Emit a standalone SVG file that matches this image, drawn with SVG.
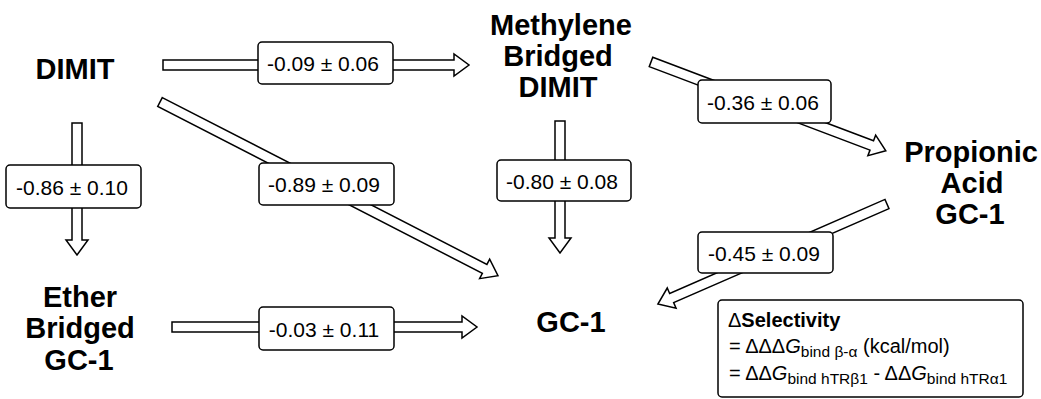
<svg xmlns="http://www.w3.org/2000/svg" width="1041" height="399" viewBox="0 0 1041 399">
<style>
.node{font-family:"Liberation Sans",Arial,sans-serif;font-weight:bold;font-size:29px;fill:#000;text-anchor:middle}
.arr{fill:#fff;stroke:#000;stroke-width:1.5;stroke-linejoin:miter}
.box{fill:#fff;stroke:#000;stroke-width:1.5}
.lbl{font-family:"Liberation Sans",Arial,sans-serif;font-size:21px;fill:#000;text-anchor:middle}
.leg{font-family:"Liberation Sans",Arial,sans-serif;font-size:20px;fill:#000}
.sub{font-size:15.5px}
</style>
<rect width="1041" height="399" fill="#fff"/>
<g id="connectors">
  <g transform="translate(163,65)"><polygon class="arr" points="0,-5 291,-5 291,-11 306,0 291,11 291,5 0,5"/></g>
  <g transform="translate(77,123) rotate(90)"><polygon class="arr" points="0,-5 117,-5 117,-11 132,0 117,11 117,5 0,5"/></g>
  <g transform="translate(160,102) rotate(27.2)"><polygon class="arr" points="0,-5 365,-5 365,-11 380,0 365,11 365,5 0,5"/></g>
  <g transform="translate(560,121) rotate(90)"><polygon class="arr" points="0,-5 117,-5 117,-11 132,0 117,11 117,5 0,5"/></g>
  <g transform="translate(651,62) rotate(20.7)"><polygon class="arr" points="0,-5 236,-5 236,-11 251,0 236,11 236,5 0,5"/></g>
  <g transform="translate(887,204) rotate(156.4)"><polygon class="arr" points="0,-5 235,-5 235,-11 250,0 235,11 235,5 0,5"/></g>
  <g transform="translate(172,327)"><polygon class="arr" points="0,-5 290,-5 290,-11 305,0 290,11 290,5 0,5"/></g>
  <g id="labels">
    <rect class="box" x="258" y="42" width="135" height="42" rx="4"/>
    <text class="lbl" x="323" y="71">-0.09 ± 0.06</text>
    <rect class="box" x="698" y="80" width="133" height="43" rx="4"/>
    <text class="lbl" x="763" y="109.5">-0.36 ± 0.06</text>
    <rect class="box" x="6" y="165" width="135" height="43" rx="4"/>
    <text class="lbl" x="72" y="194.5">-0.86 ± 0.10</text>
    <rect class="box" x="259" y="163" width="135" height="42" rx="4"/>
    <text class="lbl" x="324" y="192">-0.89 ± 0.09</text>
    <rect class="box" x="497" y="160" width="134" height="41" rx="4"/>
    <text class="lbl" x="562" y="188.5">-0.80 ± 0.08</text>
    <rect class="box" x="698" y="232" width="135" height="41" rx="4"/>
    <text class="lbl" x="764" y="260.5">-0.45 ± 0.09</text>
    <rect class="box" x="259" y="307" width="135" height="43" rx="4"/>
    <text class="lbl" x="324" y="336.5">-0.03 ± 0.11</text>
  </g>
</g>
<g id="dimit"><text class="node" x="75" y="79">DIMIT</text></g>
<g id="methylene">
  <text class="node" x="561" y="35">Methylene</text>
  <text class="node" x="558" y="66">Bridged</text>
  <text class="node" x="558" y="97">DIMIT</text>
</g>
<g id="propionic">
  <text class="node" x="971" y="162">Propionic</text>
  <text class="node" x="972" y="193">Acid</text>
  <text class="node" x="970" y="224">GC-1</text>
</g>
<g id="ether">
  <text class="node" x="80" y="307">Ether</text>
  <text class="node" x="80" y="338">Bridged</text>
  <text class="node" x="79" y="370">GC-1</text>
</g>
<g id="gc1"><text class="node" x="571" y="332">GC-1</text></g>
<g id="legend">
  <rect class="box" x="718" y="300" width="305" height="97" rx="4"/>
  <text class="leg" x="728" y="327">Δ<tspan font-weight="bold">Selectivity</tspan></text>
  <text class="leg" x="729" y="353">= ΔΔΔ<tspan font-style="italic">G</tspan><tspan class="sub" dy="4">bind  β-α</tspan><tspan dy="-4"> (kcal/mol)</tspan></text>
  <text class="leg" x="729" y="380">= ΔΔ<tspan font-style="italic">G</tspan><tspan class="sub" dy="4">bind hTRβ1</tspan><tspan dy="-4"> - ΔΔ</tspan><tspan font-style="italic">G</tspan><tspan class="sub" dy="4">bind hTRα1</tspan></text>
</g>
</svg>
